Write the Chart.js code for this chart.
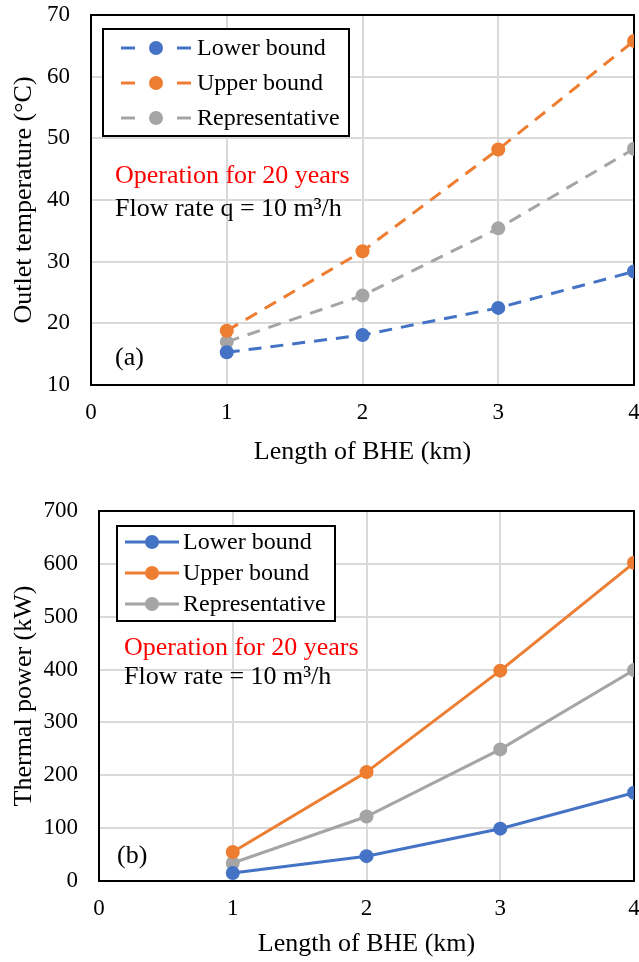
<!DOCTYPE html>
<html>
<head>
<meta charset="utf-8">
<script src="https://cdn.jsdelivr.net/npm/chart.js@4.4.0/dist/chart.umd.min.js"></script>
<style>
  html, body { margin: 0; padding: 0; background: #fff; width: 639px; height: 962px; overflow: hidden; }
  .box { position: absolute; left: 0; }
  #topBox { top: 0; }
  #bottomBox { top: 490px; }
</style>
</head>
<body>
<div id="topBox" class="box"><canvas id="tempChart" width="648" height="470"></canvas></div>
<div id="bottomBox" class="box"><canvas id="powerChart" width="648" height="472"></canvas></div>
<script>
// data
var LENGTHS = [1, 2, 3, 4];
var SERIES_NAMES = ['Lower bound', 'Upper bound', 'Representative'];

var TEMP_LOWER = [15.3, 18.1, 22.5, 28.4];
var TEMP_UPPER = [18.8, 31.7, 48.2, 65.8];
var TEMP_REP = [17.0, 24.5, 35.4, 48.3];

var POWER_LOWER = [15, 47, 99, 167];
var POWER_UPPER = [55, 206, 398, 602];
var POWER_REP = [34, 122, 249, 399];

var X_TITLE = 'Length of BHE (km)';
var TEMP_TITLE = 'Outlet temperature (\u00B0C)';
var POWER_TITLE = 'Thermal power (kW)';
var TEMP_NOTES = ['Operation for 20 years', 'Flow rate q = 10 m\u00B3/h', '(a)'];
var POWER_NOTES = ['Operation for 20 years', 'Flow rate = 10 m\u00B3/h', '(b)'];

var COLORS = ['#4472C4', '#ED7D31', '#A5A5A5'];
var SERIF = "'Liberation Serif', 'Times New Roman', serif";

Chart.defaults.font.family = SERIF;
Chart.defaults.color = '#000';

function toPoints(values) {
	return values.map(function(v, i) { return { x: LENGTHS[i], y: v }; });
}

function createDataset(label, values, color, dash) {
	return {
		label: label,
		data: toPoints(values),
		borderColor: color,
		backgroundColor: color,
		borderWidth: 3,
		borderDash: dash,
		pointRadius: 7,
		pointHoverRadius: 7,
		pointBorderWidth: 0,
		tension: 0
	};
}

// frame, legend box and text notes
function makeDecorPlugin(cfg) {
	return {
		id: 'decor' + cfg.name,
		beforeDatasetsDraw: function(chart) {
			var a = chart.chartArea;
			var ctx = chart.ctx;
			ctx.save();
			ctx.strokeStyle = '#000';
			ctx.lineWidth = 2;
			ctx.strokeRect(a.left, a.top, a.right - a.left, a.bottom - a.top);
			ctx.restore();
		},
		afterDraw: function(chart) {
			var ctx = chart.ctx;
			var lg = cfg.legend;
			ctx.save();
			ctx.fillStyle = '#fff';
			ctx.fillRect(lg.x, lg.y, lg.w, lg.h);
			ctx.strokeStyle = '#000';
			ctx.lineWidth = 2;
			ctx.strokeRect(lg.x, lg.y, lg.w, lg.h);
			ctx.font = '24px ' + SERIF;
			ctx.textBaseline = 'middle';
			SERIES_NAMES.forEach(function(name, i) {
				var y = lg.rowY + i * lg.rowGap;
				ctx.strokeStyle = COLORS[i];
				ctx.fillStyle = COLORS[i];
				ctx.lineWidth = 3;
				lg.segs.forEach(function(s) {
					ctx.beginPath();
					ctx.moveTo(s[0], y);
					ctx.lineTo(s[1], y);
					ctx.stroke();
				});
				ctx.beginPath();
				ctx.arc(lg.dotX, y, 7, 0, Math.PI * 2);
				ctx.fill();
				ctx.fillStyle = '#000';
				ctx.fillText(name, lg.textX, y + 1);
			});

			ctx.font = '26px ' + SERIF;
			cfg.notes.forEach(function(n) {
				ctx.fillStyle = n.color;
				ctx.fillText(n.text, n.x, n.y);
			});
			ctx.restore();
		}
	};
}

function buildChart(canvasId, cfg) {
	var ctx = document.getElementById(canvasId).getContext('2d');
	var gridOpts = function(len) {
		return { color: '#D9D9D9', lineWidth: 2, drawTicks: true, tickLength: len, tickColor: 'rgba(0,0,0,0)' };
	};
	return new Chart(ctx, {
		type: 'line',
		data: {
			datasets: [
				createDataset(SERIES_NAMES[0], cfg.values[0], COLORS[0], cfg.dash),
				createDataset(SERIES_NAMES[1], cfg.values[1], COLORS[1], cfg.dash),
				createDataset(SERIES_NAMES[2], cfg.values[2], COLORS[2], cfg.dash)
			]
		},
		options: {
			responsive: false,
			animation: false,
			layout: { padding: { top: cfg.padTop, right: 14, left: 0, bottom: 0 } },
			plugins: {
				legend: { display: false },
				tooltip: { enabled: false }
			},
			scales: {
				x: {
					type: 'linear',
					min: 0,
					max: 4,
					ticks: { stepSize: 1, padding: 0, font: { size: 23 } },
					grid: gridOpts(14),
					border: { display: false },
					title: { display: true, text: X_TITLE, font: { size: 26 }, padding: { top: 0, bottom: 2 } },
					afterFit: function(scale) { scale.height = cfg.xHeight; }
				},
				y: {
					min: cfg.yMin,
					max: cfg.yMax,
					ticks: { stepSize: cfg.yStep, padding: 0, font: { size: 23 } },
					grid: gridOpts(21),
					border: { display: false },
					title: { display: true, text: cfg.yTitle, font: { size: 26 }, padding: { top: 9, bottom: 0 } },
					afterFit: function(scale) { scale.width = cfg.yWidth; }
				}
			}
		},
		plugins: [makeDecorPlugin(cfg)]
	});
}

buildChart('tempChart', {
	name: 'Temp',
	values: [TEMP_LOWER, TEMP_UPPER, TEMP_REP],
	dash: [13, 9],
	padTop: 15,
	xHeight: 85,
	yWidth: 91,
	yMin: 10, yMax: 70, yStep: 10,
	yTitle: TEMP_TITLE,
	legend: { x: 103, y: 29, w: 246, h: 107, rowY: 48, rowGap: 35,
		segs: [[121, 135], [177, 191]], dotX: 156, textX: 197 },
	notes: [
		{ text: TEMP_NOTES[0], x: 115, y: 176, color: '#FF0000' },
		{ text: TEMP_NOTES[1], x: 115, y: 209, color: '#000' },
		{ text: TEMP_NOTES[2], x: 115, y: 358, color: '#000' }
	]
});

buildChart('powerChart', {
	name: 'Power',
	values: [POWER_LOWER, POWER_UPPER, POWER_REP],
	dash: [],
	padTop: 21,
	xHeight: 81,
	yWidth: 99,
	yMin: 0, yMax: 700, yStep: 100,
	yTitle: POWER_TITLE,
	legend: { x: 117, y: 36, w: 218, h: 95, rowY: 52, rowGap: 31,
		segs: [[125, 179]], dotX: 152, textX: 183 },
	notes: [
		{ text: POWER_NOTES[0], x: 124, y: 158, color: '#FF0000' },
		{ text: POWER_NOTES[1], x: 124, y: 187, color: '#000' },
		{ text: POWER_NOTES[2], x: 117, y: 366, color: '#000' }
	]
});
</script>
</body>
</html>
